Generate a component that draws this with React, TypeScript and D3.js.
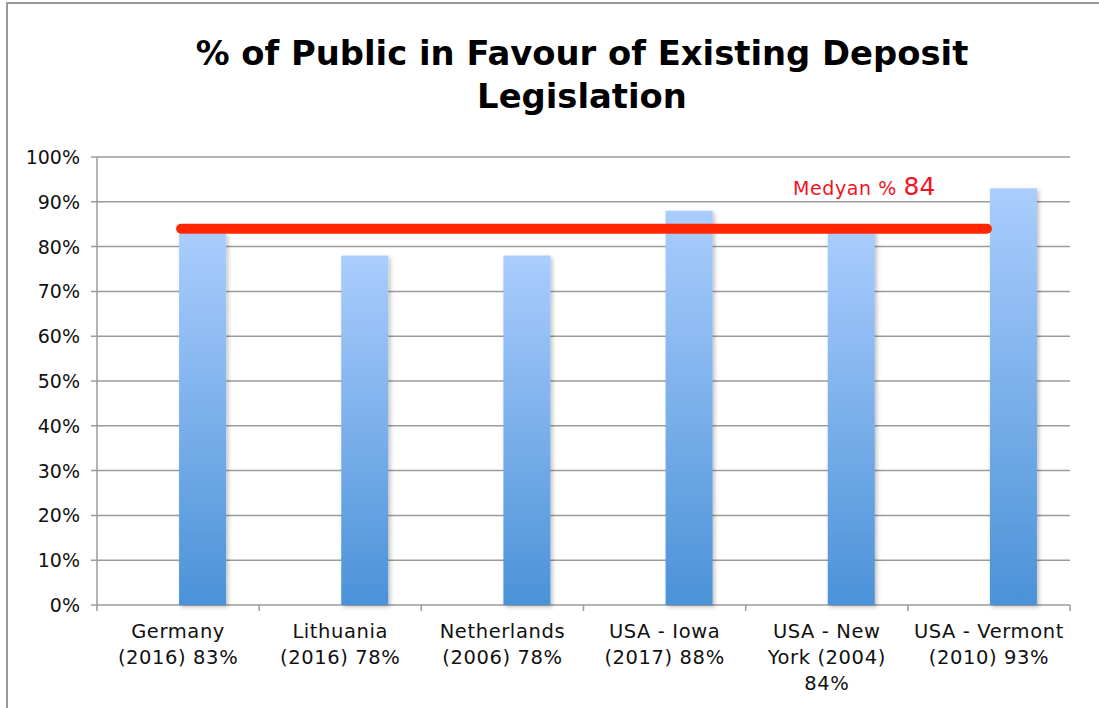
import * as d3 from "d3";
import { useEffect, useRef } from "react";

const categories = ["Germany", "Lithuania", "Netherlands", "USA - Iowa", "USA - New York", "USA - Vermont"];
const categoryLines = [
  ["Germany", "(2016) 83%"],
  ["Lithuania", "(2016) 78%"],
  ["Netherlands", "(2006) 78%"],
  ["USA - Iowa", "(2017) 88%"],
  ["USA - New", "York (2004)", "84%"],
  ["USA - Vermont", "(2010) 93%"],
];
const values = [83, 78, 78, 88, 84, 93];
const median = 84;
const yTicks = [0, 10, 20, 30, 40, 50, 60, 70, 80, 90, 100];

const W = 1099;
const H = 708;
const margin = { top: 157, right: 29, bottom: 103, left: 97 };
const font = "'DejaVu Sans', sans-serif";

const App = () => {
  const ref = useRef<SVGSVGElement>(null);

  useEffect(() => {
    const svg = d3.select(ref.current);
    svg.selectAll("*").remove();

    const x = d3
      .scaleBand<string>()
      .domain(categories)
      .range([margin.left, W - margin.right])
      .padding(0);
    const y = d3
      .scaleLinear()
      .domain([0, 100])
      .range([H - margin.bottom, margin.top]);

    const defs = svg.append("defs");
    const grad = defs
      .append("linearGradient")
      .attr("id", "barGrad")
      .attr("x1", 0)
      .attr("y1", 0)
      .attr("x2", 0)
      .attr("y2", 1);
    grad.append("stop").attr("offset", "0%").attr("stop-color", "#aacdfd");
    grad.append("stop").attr("offset", "100%").attr("stop-color", "#4b92d8");
    const shadow = defs.append("filter").attr("id", "shadow").attr("x", "-20%").attr("y", "-20%").attr("width", "150%").attr("height", "150%");
    shadow
      .append("feDropShadow")
      .attr("dx", 2)
      .attr("dy", 2)
      .attr("stdDeviation", 2)
      .attr("flood-color", "#000")
      .attr("flood-opacity", 0.25);

    // frame
    svg
      .append("path")
      .attr("d", `M7,${H} L7,3 L${W},3`)
      .attr("fill", "none")
      .attr("stroke", "#9a9a9a")
      .attr("stroke-width", 2);

    // title
    const title = svg
      .append("text")
      .attr("text-anchor", "middle")
      .attr("font-family", font)
      .attr("font-weight", "bold")
      .attr("font-size", 33.8)
      .attr("fill", "#000");
    title.append("tspan").attr("x", 582).attr("y", 65).text("% of Public in Favour of Existing Deposit");
    title.append("tspan").attr("x", 582).attr("y", 108).text("Legislation");

    // grid
    svg
      .append("g")
      .selectAll("line")
      .data(yTicks)
      .join("line")
      .attr("x1", margin.left - 6)
      .attr("x2", W - margin.right)
      .attr("y1", (d) => y(d))
      .attr("y2", (d) => y(d))
      .attr("stroke", "#9b9b9b")
      .attr("stroke-width", 1.5);

    svg
      .append("g")
      .selectAll("text")
      .data(yTicks)
      .join("text")
      .attr("x", 80)
      .attr("y", (d) => y(d) + 7)
      .attr("text-anchor", "end")
      .attr("font-family", font)
      .attr("font-size", 19)
      .attr("fill", "#111")
      .text((d) => `${d}%`);

    // axes
    svg
      .append("line")
      .attr("x1", margin.left)
      .attr("x2", margin.left)
      .attr("y1", y(100))
      .attr("y2", y(0))
      .attr("stroke", "#9b9b9b")
      .attr("stroke-width", 1.5);

    const edges = categories.map((c) => x(c)!).concat([W - margin.right]);
    svg
      .append("g")
      .selectAll("line")
      .data(edges)
      .join("line")
      .attr("x1", (d) => d)
      .attr("x2", (d) => d)
      .attr("y1", y(0))
      .attr("y2", y(0) + 6)
      .attr("stroke", "#9b9b9b")
      .attr("stroke-width", 1.5);

    // bars
    const bw = x.bandwidth() * 0.29;
    svg
      .append("g")
      .selectAll("rect")
      .data(values)
      .join("rect")
      .attr("x", (_, i) => x(categories[i])! + x.bandwidth() / 2 + 1)
      .attr("y", (d) => y(d))
      .attr("width", bw)
      .attr("height", (d) => y(0) - y(d))
      .attr("fill", "url(#barGrad)")
      .attr("filter", "url(#shadow)");

    // median line
    const first = x(categories[0])! + x.bandwidth() / 2 + 3;
    const last = x(categories[categories.length - 1])! + x.bandwidth() / 2 - 2;
    svg
      .append("line")
      .attr("x1", first)
      .attr("x2", last)
      .attr("y1", y(median))
      .attr("y2", y(median))
      .attr("stroke", "#ff2600")
      .attr("stroke-width", 10)
      .attr("stroke-linecap", "round");

    const ml = svg
      .append("text")
      .attr("x", 793)
      .attr("y", 195)
      .attr("font-family", font)
      .attr("fill", "#f0141e");
    ml.append("tspan").attr("font-size", 19).attr("letter-spacing", 0.6).text("Medyan % ");
    ml.append("tspan").attr("font-size", 25).text(`${median}`);

    // category labels
    const lab = svg
      .append("g")
      .selectAll("text")
      .data(categoryLines)
      .join("text")
      .attr("text-anchor", "middle")
      .attr("font-family", font)
      .attr("font-size", 19.5)
      .attr("letter-spacing", 0.6)
      .attr("fill", "#111");
    lab
      .selectAll("tspan")
      .data((d, i) => d.map((t) => ({ t, i })))
      .join("tspan")
      .attr("x", (d) => x(categories[d.i])! + x.bandwidth() / 2)
      .attr("y", (_, j) => 638 + j * 26)
      .text((d) => d.t);
  }, []);

  return (
    <div style={{ position: "fixed", left: 0, top: 0 }}>
      <svg ref={ref} width={W} height={H} style={{ display: "block", background: "#fff" }} />
    </div>
  );
};

export default App;
